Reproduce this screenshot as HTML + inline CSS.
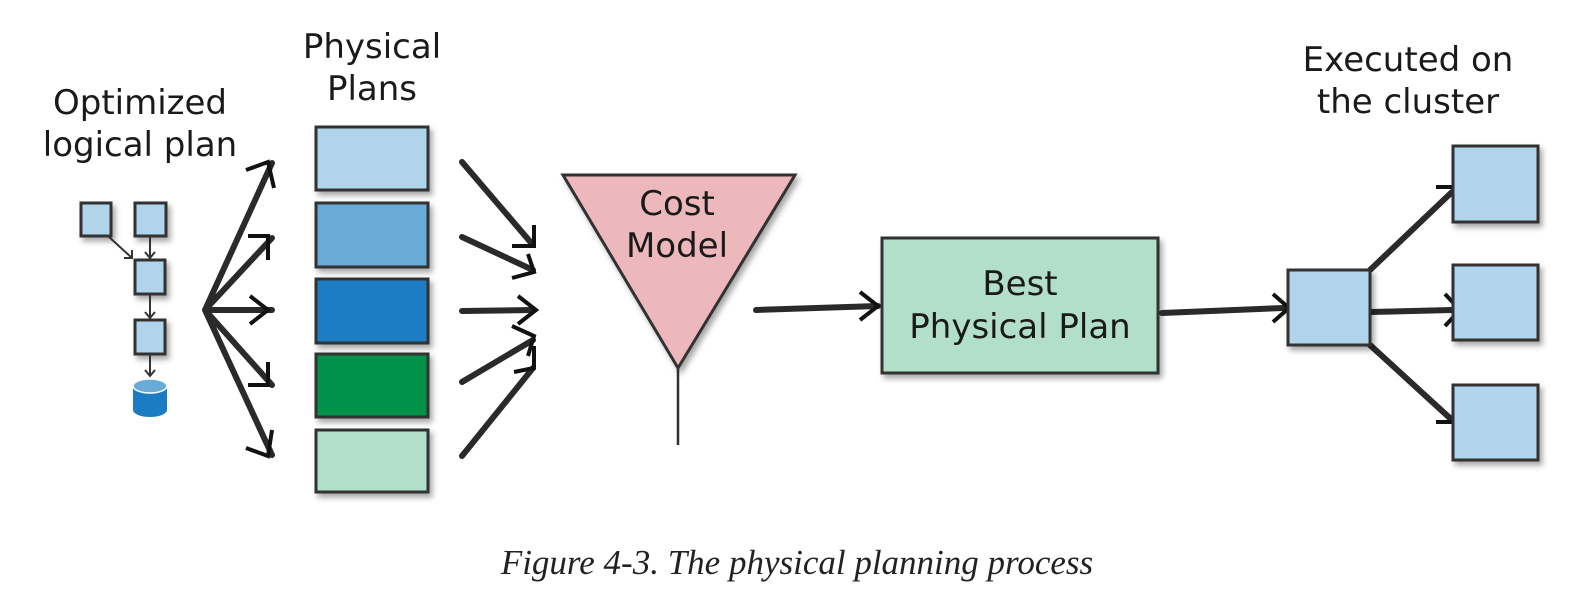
<!DOCTYPE html>
<html><head><meta charset="utf-8"><style>
html,body{margin:0;padding:0;background:#fff}
svg{display:block}
.h{font-family:"DejaVu Sans","Liberation Sans",sans-serif;font-size:34px;fill:#1a1a1a;font-weight:normal}
</style></head><body>
<svg width="1578" height="599" viewBox="0 0 1578 599" xmlns="http://www.w3.org/2000/svg">
<defs>
<filter id="sh" x="-20%" y="-20%" width="150%" height="150%"><feDropShadow dx="3" dy="4" stdDeviation="3" flood-color="#000" flood-opacity="0.35"/></filter>
</defs>
<g class="h" text-anchor="middle">
<text x="140" y="114">Optimized</text>
<text x="140" y="156">logical plan</text>
<text x="372" y="58">Physical</text>
<text x="372" y="100">Plans</text>
<text x="1408" y="71">Executed on</text>
<text x="1408" y="113">the cluster</text>
</g>
<g stroke="#333" stroke-width="3" fill="#b0d4eb" filter="url(#sh)">
<rect x="81" y="203" width="30" height="33"/>
<rect x="135" y="203" width="31" height="33"/>
<rect x="135" y="260" width="30" height="34"/>
<rect x="135" y="320" width="30" height="34"/>
</g>
<g stroke="#333" stroke-width="2" fill="none">
<path d="M108 236 L132 258 M124 258 L132 258 L132 250"/>
<path d="M150 236 V258 M145 252 L150 258 L155 252"/>
<path d="M150 294 V318 M145 312 L150 318 L155 312"/>
<path d="M150 354 V376 M145 370 L150 376 L155 370"/>
</g>
<path d="M133 386 V410 A17 7 0 0 0 167 410 V386 Z" fill="#1b7cc4"/>
<ellipse cx="150" cy="386" rx="17" ry="7" fill="#6aaad6" stroke="#fff" stroke-width="1.5"/>
<g stroke="#2a2a2a" stroke-width="6" fill="none" stroke-linecap="round">
<path d="M205 310 L272 163 M205 310 L272 238 M205 310 L272 310 M205 310 L272 385 M205 310 L272 455"/>
</g>
<g stroke="#111" stroke-width="4" fill="none">
<path d="M246 170 L268 162 L274 188"/>
<path d="M248 236 L268 236 L268 260"/>
<path d="M250 296 L268 310 L250 324"/>
<path d="M248 385 L268 385 L268 362"/>
<path d="M246 448 L268 456 L272 430"/>
</g>
<g stroke="#333" stroke-width="3" filter="url(#sh)">
<rect x="316" y="127" width="112" height="63" fill="#b0d4eb"/>
<rect x="316" y="203" width="112" height="64" fill="#6aaad6"/>
<rect x="316" y="279" width="112" height="64" fill="#1b7cc4"/>
<rect x="316" y="354" width="112" height="63" fill="#00924a"/>
<rect x="316" y="430" width="112" height="62" fill="#b2dfc9"/>
</g>
<g stroke="#2a2a2a" stroke-width="6" fill="none" stroke-linecap="round">
<path d="M462 162 L533 245 M462 237 L533 270 M462 311 L533 310 M462 382 L533 340 M462 456 L533 368"/>
</g>
<g stroke="#111" stroke-width="4" fill="none">
<path d="M534 225 L534 246 L512 246"/>
<path d="M512 278 L534 272 L528 254"/>
<path d="M518 296 L536 310 L518 324"/>
<path d="M512 326 L534 336 L528 356"/>
<path d="M514 372 L534 368 L534 346"/>
</g>
<path d="M678 368 V445" stroke="#333" stroke-width="2.5" fill="none"/>
<polygon points="563,175 795,175 678,368" fill="#ecb8bc" stroke="#333" stroke-width="3" filter="url(#sh)"/>
<g class="h" text-anchor="middle">
<text x="677" y="215">Cost</text>
<text x="677" y="257">Model</text>
</g>
<path d="M756 310 L878 306" stroke="#2a2a2a" stroke-width="6" stroke-linecap="round"/>
<path d="M860 292 L878 306 L860 320" stroke="#111" stroke-width="4" fill="none"/>
<rect x="882" y="238" width="276" height="135" fill="#b2dfc9" stroke="#333" stroke-width="3" filter="url(#sh)"/>
<g class="h" text-anchor="middle">
<text x="1020" y="295">Best</text>
<text x="1020" y="338">Physical Plan</text>
</g>
<path d="M1162 313 L1283 308" stroke="#2a2a2a" stroke-width="6" stroke-linecap="round"/>
<path d="M1273 294 L1289 308 L1273 322" stroke="#111" stroke-width="4" fill="none"/>
<g stroke="#2a2a2a" stroke-width="6" fill="none" stroke-linecap="round">
<path d="M1370 270 L1452 192 M1370 312 L1452 310 M1370 345 L1452 420"/>
</g>
<g stroke="#111" stroke-width="4" fill="none">
<path d="M1436 187 L1456 187 L1456 210"/>
<path d="M1445 294 L1460 310 L1445 326"/>
<path d="M1436 422 L1456 422 L1456 400"/>
</g>
<g stroke="#333" stroke-width="3" fill="#b0d4eb" filter="url(#sh)">
<rect x="1288" y="270" width="82" height="75"/>
<rect x="1453" y="146" width="85" height="76"/>
<rect x="1453" y="265" width="85" height="75"/>
<rect x="1453" y="385" width="85" height="75"/>
</g>
<text x="797" y="574" text-anchor="middle" font-family="Liberation Serif, serif" font-style="italic" font-size="35" fill="#222">Figure 4-3. The physical planning process</text>
</svg>
</body></html>
